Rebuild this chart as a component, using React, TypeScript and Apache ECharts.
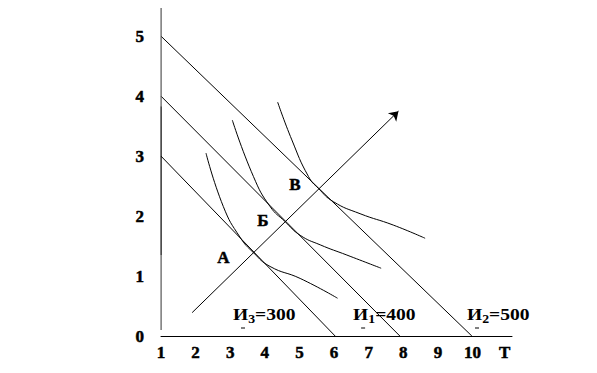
import React, { useEffect, useRef } from "react";
import * as echarts from "echarts";

// ---- data ----
const X_TICKS = [1, 2, 3, 4, 5, 6, 7, 8, 9, 10];
const Y_TICKS = [0, 1, 2, 3, 4, 5];

// budget lines (isocost lines)
const BUDGET_300 = [[1, 3.0], [6.03, 0]];
const BUDGET_400 = [[1, 4.0], [7.9, 0]];
const BUDGET_500 = [[1, 5.0], [9.98, 0]];

// indifference curves (isoquants)
const CURVE_A = [[2.3, 3.05], [2.8, 2.16], [3.28, 1.65], [3.67, 1.39], [4.15, 1.16], [5.02, 0.96], [6.1, 0.63]];
const CURVE_B = [[3.06, 3.6], [3.67, 2.66], [4.15, 2.16], [4.58, 1.91], [5.02, 1.68], [5.6, 1.52], [6.37, 1.35], [7.36, 1.13]];
const CURVE_V = [[4.37, 3.9], [4.78, 3.27], [5.26, 2.66], [5.55, 2.46], [5.98, 2.24], [6.75, 2.04], [7.71, 1.85], [8.63, 1.63]];

// expansion path (arrow)
const PATH = [[1.9, 0.39], [7.86, 3.75]];

// y axis: [from, to, dithered?]
const Y_AXIS_PARTS: [number, number, boolean][] = [
  [5.47, 3.83, true],
  [3.83, 1.35, false],
  [1.35, 0.1, true],
];

// text annotations: [label, x, y]
const POINT_LABELS: [string, number, number][] = [
  ["А", 2.8, 1.31],
  ["Б", 3.94, 1.92],
  ["В", 4.87, 2.52],
];
const BUDGET_LABELS: [string, string, number, number][] = [
  ["3", "=300", 3.08, 0.35],
  ["1", "=400", 6.55, 0.35],
  ["2", "=500", 9.84, 0.35],
];
const X_NAME: [string, number] = ["T", 10.93];

const FONT = "Liberation Serif";

export default function App() {
  const ref = useRef<HTMLDivElement>(null);

  useEffect(() => {
    if (!ref.current) return;
    const chart = echarts.init(ref.current, undefined, { renderer: "svg" });

    const lineSeries = (data: number[][], color = "#000", extra: any = {}) => ({
      type: "line",
      data,
      symbol: "none",
      silent: true,
      clip: false,
      lineStyle: { color, width: 1 },
      ...extra,
    });

    const labelStyle = {
      color: "#000",
      fontFamily: FONT,
      fontWeight: "bold",
      fontSize: 17,
      textBorderColor: "#000",
      textBorderWidth: 0.5,
    };

    chart.setOption({
      animation: false,
      backgroundColor: "#fff",
      grid: { left: 161, right: 85, top: 8, bottom: 37, containLabel: false },
      xAxis: {
        type: "value",
        min: 1,
        max: 11.14,
        interval: 1,
        axisLine: { show: true, lineStyle: { color: "#000", width: 1 } },
        axisTick: { show: false },
        splitLine: { show: false },
        axisLabel: {
          margin: 8,
          ...labelStyle,
          formatter: (v: number) => (X_TICKS.includes(v) ? String(v) : ""),
        },
      },
      yAxis: {
        type: "value",
        min: 0,
        max: 5.47,
        interval: 1,
        axisLine: { show: false },
        axisTick: { show: false },
        splitLine: { show: false },
        axisLabel: {
          margin: 17,
          ...labelStyle,
          showMaxLabel: false,
          formatter: (v: number) => (Y_TICKS.includes(v) ? String(v) : ""),
        },
      },
      series: [
        lineSeries(BUDGET_300),
        lineSeries(BUDGET_400),
        lineSeries(BUDGET_500),
        lineSeries(CURVE_A, "#000", { smooth: 0.5 }),
        lineSeries(CURVE_B, "#000", { smooth: 0.5 }),
        lineSeries(CURVE_V, "#000", { smooth: 0.5 }),
        {
          type: "lines",
          coordinateSystem: "cartesian2d",
          silent: true,
          symbol: ["none", "arrow"],
          symbolSize: 9,
          lineStyle: { color: "#000", width: 1, opacity: 1, curveness: 0 },
          data: [{ coords: PATH }],
        },
      ],
    });

    const toPx = (p: number[]) => chart.convertToPixel({ gridIndex: 0 }, p) as number[];

    const txtStyle = (text: string, align: string) => ({
      text,
      fill: "#000",
      stroke: "#000",
      lineWidth: 0.5,
      fontFamily: FONT,
      fontWeight: "bold",
      fontSize: 17,
      align,
      verticalAlign: "middle",
      textAlign: align,
      textVerticalAlign: "middle",
    });

    const graphics: any[] = [];

    Y_AXIS_PARTS.forEach(([from, to, dithered]) => {
      const [x1, y1] = toPx([1, from]);
      const [, y2] = toPx([1, to]);
      graphics.push({
        type: "rect",
        silent: true,
        z: 10,
        shape: { x: Math.round(x1) - 0.5, y: Math.min(y1, y2), width: 1.2, height: Math.abs(y2 - y1) },
        style: { fill: dithered ? "#555" : "#000" },
      });
    });

    POINT_LABELS.forEach(([t, x, y]) => {
      const [px, py] = toPx([x, y]);
      graphics.push({ type: "text", x: px, y: py, silent: true, style: txtStyle(t, "center") });
    });

    BUDGET_LABELS.forEach(([sub, rest, x, y]) => {
      const [px, py] = toPx([x, y]);
      const rich = {
        m: { fontFamily: FONT, fontWeight: "bold", fontSize: 17, lineHeight: 19, verticalAlign: "top", fill: "#000" },
        s: { fontFamily: FONT, fontWeight: "bold", fontSize: 12, lineHeight: 12, verticalAlign: "bottom", fill: "#000" },
      };
      graphics.push({
        type: "text",
        x: px,
        y: py,
        scaleX: 1.15,
        silent: true,
        style: {
          text: `{m|И}{s|${sub}}{m|${rest}}`,
          fill: "#000",
          align: "left",
          verticalAlign: "middle",
          textAlign: "left",
          textVerticalAlign: "middle",
          rich,
        },
      });
      graphics.push({
        type: "line",
        silent: true,
        shape: { x1: px + 8, y1: py + 13, x2: px + 12, y2: py + 13 },
        style: { stroke: "#000", lineWidth: 1 },
      });
    });

    {
      const [px] = toPx([X_NAME[1], 0]);
      const [, py] = toPx([1, 0]);
      graphics.push({ type: "text", x: px, y: py + 16, silent: true, style: txtStyle(X_NAME[0], "center") });
    }

    chart.setOption({ graphic: graphics });

    return () => chart.dispose();
  }, []);

  return <div ref={ref} style={{ width: 597, height: 373, position: "absolute", left: 0, top: 0 }} />;
}
